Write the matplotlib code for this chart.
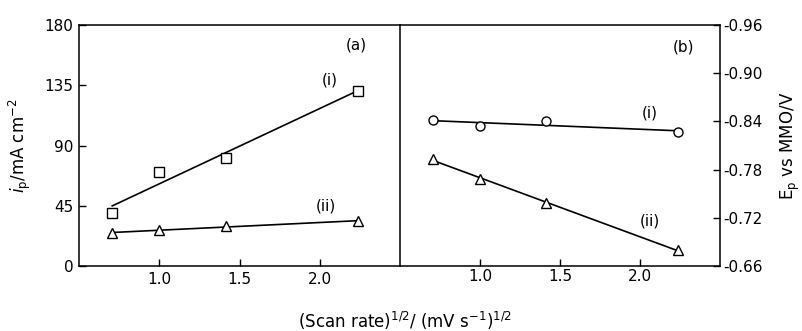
import numpy as np
import matplotlib
import matplotlib.pyplot as plt
matplotlib.use('Agg')

# square root of scan rate, (mV s-1)^1/2
x_rate = [0.707, 1.0, 1.414, 2.236]

# (a) peak current density, mA cm-2
ip_i = [40, 70, 81, 131]
ip_ii = [24.5, 27, 30, 33.5]

# (b) peak potential vs MMO, V
ep_i = [-0.842, -0.834, -0.840, -0.827]
ep_ii = [-0.793, -0.769, -0.738, -0.680]

ip_ticks = [0, 45, 90, 135, 180]
ep_ticks = [-0.66, -0.72, -0.78, -0.84, -0.90, -0.96]
x_ticks = [1.0, 1.5, 2.0]

plt.rcParams['font.family'] = 'DejaVu Sans'
plt.rcParams['font.size'] = 11

fig = plt.figure(figsize=(8.02, 3.31), dpi=100)
ax1 = fig.add_axes([0.0985, 0.196, 0.4003, 0.7285])
ax2 = fig.add_axes([0.4988, 0.196, 0.3990, 0.7285])


def fit_line(ax, x, y):
    k, b = np.polyfit(x, y, 1)
    xs = np.array([x[0], x[-1]])
    ax.plot(xs, k * xs + b, color='black', lw=1.2)


# panel (a)
fit_line(ax1, x_rate, ip_i)
fit_line(ax1, x_rate, ip_ii)
ax1.plot(x_rate, ip_i, 's', ms=6.5, mfc='white', mec='black', mew=1.0)
ax1.plot(x_rate, ip_ii, '^', ms=7, mfc='white', mec='black', mew=1.0)
ax1.set_xlim(0.5, 2.5)
ax1.set_ylim(0, 180)
ax1.set_xticks(x_ticks)
ax1.set_xticklabels(['1.0', '1.5', '2.0'])
ax1.set_yticks(ip_ticks)
ax1.tick_params(direction='in', length=5, width=1, pad=4, labelsize=11)
ax1.spines['right'].set_visible(False)
ax1.set_ylabel(r'$i_\mathrm{p}$/mA cm$^{-2}$', fontsize=12, labelpad=8)
ax1.text(2.225, 165, '(a)', ha='center', va='center', fontsize=11)
ax1.text(2.06, 139, '(i)', ha='center', va='center', fontsize=11)
ax1.text(2.04, 45, '(ii)', ha='center', va='center', fontsize=11)

# panel (b)
fit_line(ax2, x_rate, ep_i)
fit_line(ax2, x_rate, ep_ii)
ax2.plot(x_rate, ep_i, 'o', ms=6.5, mfc='white', mec='black', mew=1.0)
ax2.plot(x_rate, ep_ii, '^', ms=7, mfc='white', mec='black', mew=1.0)
ax2.set_xlim(0.5, 2.5)
ax2.set_ylim(-0.66, -0.96)
ax2.set_xticks(x_ticks)
ax2.set_xticklabels(['1.0', '1.5', '2.0'])
ax2.yaxis.tick_right()
ax2.yaxis.set_label_position('right')
ax2.set_yticks(ep_ticks)
ax2.set_yticklabels(['%.2f' % v for v in ep_ticks])
ax2.tick_params(direction='in', length=5, width=1, pad=2, labelsize=11)
ax2.set_ylabel(r'E$_\mathrm{p}$ vs MMO/V', fontsize=12, labelpad=12)
ax2.text(2.27, -0.933, '(b)', ha='center', va='center', fontsize=11)
ax2.text(2.06, -0.850, '(i)', ha='center', va='center', fontsize=11)
ax2.text(2.06, -0.716, '(ii)', ha='center', va='center', fontsize=11)

for ax in (ax1, ax2):
    for s in ax.spines.values():
        s.set_linewidth(1.1)

fig.text(0.505, 0.03, r'(Scan rate)$^{1/2}$/ (mV s$^{-1}$)$^{1/2}$',
         ha='center', va='center', fontsize=12)

fig.savefig('out.png', dpi=100)
plt.close()
